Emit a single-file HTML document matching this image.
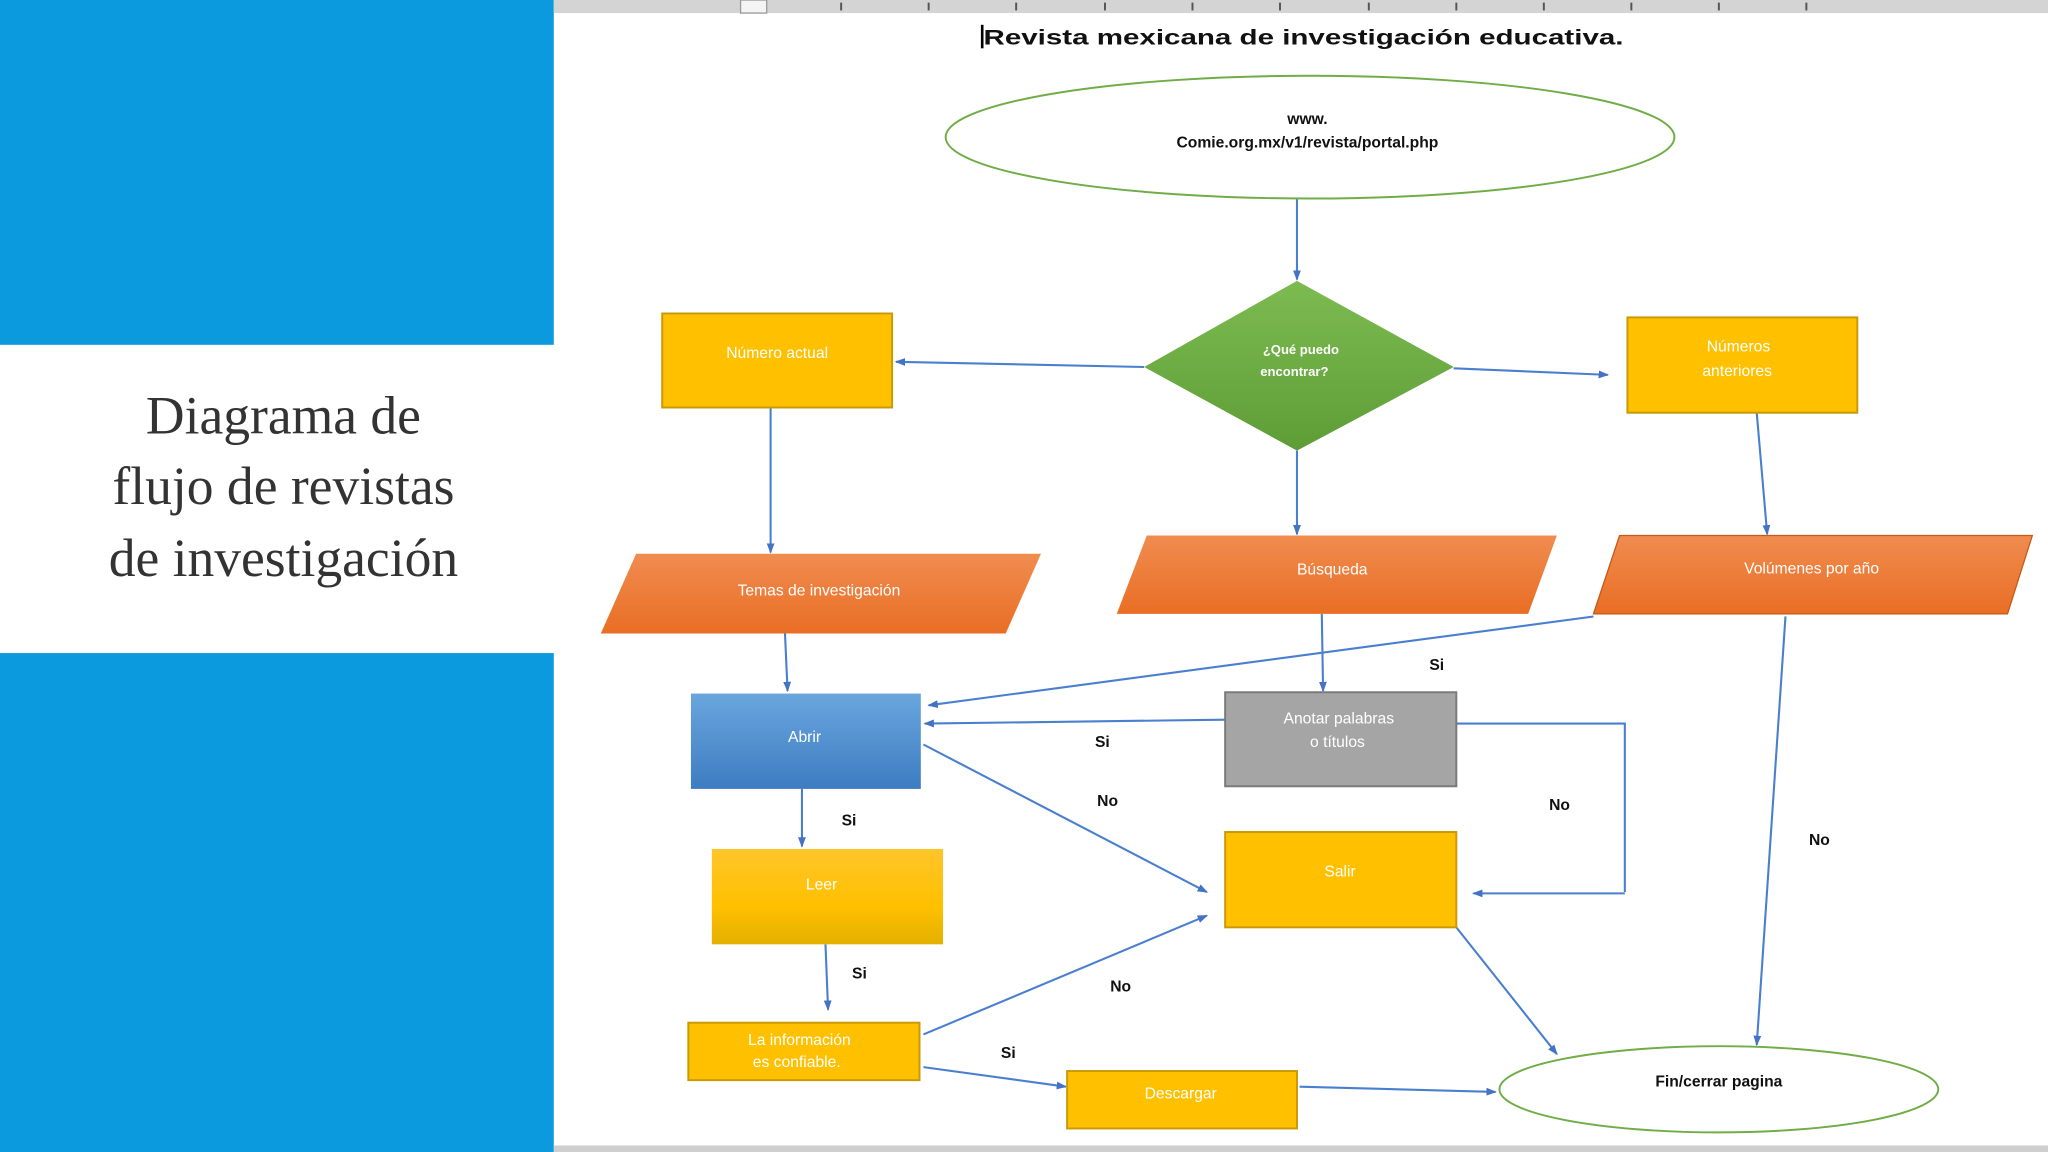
<!DOCTYPE html>
<html><head><meta charset="utf-8"><style>html,body{margin:0;padding:0;background:#fff;width:2048px;height:1152px;overflow:hidden}</style></head>
<body>
<svg xmlns="http://www.w3.org/2000/svg" width="2048" height="1152" viewBox="0 0 1568 882" font-family="Liberation Sans, sans-serif">
<defs>
<linearGradient id="or" x1="0" y1="0" x2="0" y2="1"><stop offset="0" stop-color="#f08c50"/><stop offset="1" stop-color="#e96e24"/></linearGradient>
<linearGradient id="gr" x1="0" y1="0" x2="0" y2="1"><stop offset="0" stop-color="#7dbb52"/><stop offset="1" stop-color="#5e9c36"/></linearGradient>
<linearGradient id="bl" x1="0" y1="0" x2="0" y2="1"><stop offset="0" stop-color="#6aa6dd"/><stop offset="1" stop-color="#3d7cc2"/></linearGradient>
<linearGradient id="ye" x1="0" y1="0" x2="0" y2="1"><stop offset="0" stop-color="#ffc52a"/><stop offset="0.6" stop-color="#ffc000"/><stop offset="1" stop-color="#e4b000"/></linearGradient>
<marker id="a" markerWidth="8" markerHeight="8" refX="7" refY="4" orient="auto" markerUnits="userSpaceOnUse"><path d="M0,1 L8,4 L0,7 z" fill="#4472c4"/></marker>
</defs>
<!-- left panel -->
<rect x="0" y="0" width="424" height="264" fill="#0b9ade"/>
<rect x="0" y="500" width="424" height="382" fill="#0b9ade"/>
<g font-family="Liberation Serif, serif" font-size="41" fill="#333" text-anchor="middle">
<text x="217" y="332">Diagrama de</text>
<text x="217" y="386">flujo de revistas</text>
<text x="217" y="441">de investigación</text>
</g>
<!-- ruler -->
<rect x="424" y="0" width="1144" height="10" fill="#d4d4d4"/>
<rect x="567" y="0" width="20" height="10" fill="#f4f4f4" stroke="#999"/>
<g stroke="#555" stroke-width="1.5">
<line x1="644" y1="2" x2="644" y2="8"/><line x1="711" y1="2" x2="711" y2="8"/><line x1="778" y1="2" x2="778" y2="8"/><line x1="846" y1="2" x2="846" y2="8"/><line x1="913" y1="2" x2="913" y2="8"/><line x1="980" y1="2" x2="980" y2="8"/><line x1="1048" y1="2" x2="1048" y2="8"/><line x1="1115" y1="2" x2="1115" y2="8"/><line x1="1182" y1="2" x2="1182" y2="8"/><line x1="1249" y1="2" x2="1249" y2="8"/><line x1="1316" y1="2" x2="1316" y2="8"/><line x1="1383" y1="2" x2="1383" y2="8"/>
</g>
<rect x="424" y="877" width="1144" height="5" fill="#cfcfcf"/>
<text x="753" y="34" font-size="16" font-weight="bold" fill="#111" textLength="490" lengthAdjust="spacingAndGlyphs">Revista mexicana de investigación educativa.</text>
<rect x="751" y="19" width="2" height="18" fill="#000"/>
<!-- connectors -->
<g stroke="#4a7fcf" stroke-width="1.6" fill="none" marker-end="url(#a)">
<line x1="993" y1="152" x2="993" y2="214"/>
<line x1="876" y1="281" x2="686" y2="277"/>
<line x1="1113" y1="282" x2="1231" y2="287"/>
<line x1="590" y1="312" x2="590" y2="423"/>
<line x1="993" y1="345" x2="993" y2="409"/>
<line x1="1345" y1="316" x2="1353" y2="409"/>
<line x1="601" y1="485" x2="603" y2="529"/>
<line x1="1220" y1="472" x2="711" y2="540"/>
<line x1="1012" y1="470" x2="1013" y2="529"/>
<line x1="938" y1="551" x2="708" y2="554"/>
<polyline points="1115,554 1244,554 1244,683" marker-end="none"/>
<line x1="1244" y1="684" x2="1128" y2="684"/>
<line x1="707" y1="570" x2="924" y2="683"/>
<line x1="614" y1="604" x2="614" y2="648"/>
<line x1="632" y1="723" x2="634" y2="773"/>
<line x1="707" y1="792" x2="924" y2="701"/>
<line x1="707" y1="817" x2="816" y2="832"/>
<line x1="995" y1="832" x2="1145" y2="836"/>
<line x1="1115" y1="710" x2="1192" y2="807"/>
<line x1="1367" y1="472" x2="1345" y2="800"/>
</g>
<!-- shapes -->
<ellipse cx="1003" cy="105" rx="279" ry="47" fill="#fff" stroke="#70ad47" stroke-width="1.5"/>
<text x="1001" y="95" font-size="12" font-weight="bold" text-anchor="middle" fill="#111">www.</text>
<text x="1001" y="113" font-size="12" font-weight="bold" text-anchor="middle" fill="#111">Comie.org.mx/v1/revista/portal.php</text>
<polygon points="993,215 1113,281 993,345 876,281" fill="url(#gr)"/>
<text x="996" y="271" font-size="10" font-weight="bold" text-anchor="middle" fill="#fff">¿Qué puedo</text>
<text x="991" y="288" font-size="10" font-weight="bold" text-anchor="middle" fill="#fff">encontrar?</text>
<rect x="507" y="240" width="176" height="72" fill="#ffc000" stroke="#c99a06" stroke-width="1.5"/>
<text x="595" y="274" font-size="12" text-anchor="middle" fill="#fff">Número actual</text>
<rect x="1246" y="243" width="176" height="73" fill="#ffc000" stroke="#c99a06" stroke-width="1.5"/>
<text x="1331" y="269" font-size="12" text-anchor="middle" fill="#fff">Números</text>
<text x="1330" y="288" font-size="12" text-anchor="middle" fill="#fff">anteriores</text>
<polygon points="487,424 797,424 770,485 460,485" fill="url(#or)"/>
<text x="627" y="456" font-size="12" text-anchor="middle" fill="#fff">Temas de investigación</text>
<polygon points="878,410 1192,410 1170,470 855,470" fill="url(#or)"/>
<text x="1020" y="440" font-size="12" text-anchor="middle" fill="#fff">Búsqueda</text>
<polygon points="1240,410 1556,410 1537,470 1220,470" fill="url(#or)" stroke="#c55a1a" stroke-width="1"/>
<text x="1387" y="439" font-size="12" text-anchor="middle" fill="#fff">Volúmenes por año</text>
<rect x="529" y="531" width="176" height="73" fill="url(#bl)"/>
<text x="616" y="568" font-size="12" text-anchor="middle" fill="#fff">Abrir</text>
<rect x="938" y="530" width="177" height="72" fill="#a5a5a5" stroke="#7a7a7a" stroke-width="1.5"/>
<text x="1025" y="554" font-size="12" text-anchor="middle" fill="#fff">Anotar palabras</text>
<text x="1024" y="572" font-size="12" text-anchor="middle" fill="#fff">o títulos</text>
<rect x="545" y="650" width="177" height="73" fill="url(#ye)"/>
<text x="629" y="681" font-size="12" text-anchor="middle" fill="#fff">Leer</text>
<rect x="938" y="637" width="177" height="73" fill="#ffc000" stroke="#c99a06" stroke-width="1.5"/>
<text x="1026" y="671" font-size="12" text-anchor="middle" fill="#fff">Salir</text>
<rect x="527" y="783" width="177" height="44" fill="#ffc000" stroke="#c99a06" stroke-width="1.5"/>
<text x="612" y="800" font-size="12" text-anchor="middle" fill="#fff">La información</text>
<text x="610" y="817" font-size="12" text-anchor="middle" fill="#fff">es confiable.</text>
<rect x="817" y="820" width="176" height="44" fill="#ffc000" stroke="#c99a06" stroke-width="1.5"/>
<text x="904" y="841" font-size="12" text-anchor="middle" fill="#fff">Descargar</text>
<ellipse cx="1316" cy="834" rx="168" ry="33" fill="#fff" stroke="#70ad47" stroke-width="1.5"/>
<text x="1316" y="832" font-size="12" font-weight="bold" text-anchor="middle" fill="#111">Fin/cerrar pagina</text>
<!-- labels -->
<g font-size="12" font-weight="bold" fill="#111" text-anchor="middle">
<text x="1100" y="513">Si</text><text x="844" y="572">Si</text><text x="848" y="617">No</text>
<text x="1194" y="620">No</text><text x="1393" y="647">No</text><text x="650" y="632">Si</text>
<text x="658" y="749">Si</text><text x="858" y="759">No</text><text x="772" y="810">Si</text>
</g>
</svg>
</body></html>
